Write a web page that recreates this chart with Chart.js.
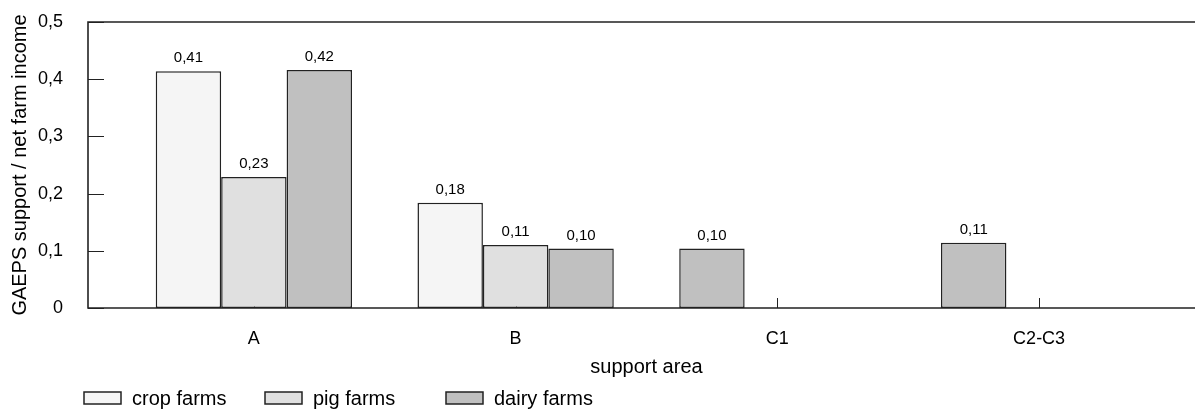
<!DOCTYPE html>
<html>
<head>
<meta charset="utf-8">
<script src="https://cdn.jsdelivr.net/npm/chart.js@4.4.1/dist/chart.umd.min.js"></script>
<style>
  body { margin: 0; background: #fff; }
  #wrap { width: 1195px; height: 410px; }
</style>
</head>
<body>
<div id="wrap"><canvas id="gaepsChart" width="1195" height="410"></canvas></div>
<script>
// data
const areas = ["A", "B", "C1", "C2-C3"];
const seriesNames = ["crop farms", "pig farms", "dairy farms"];
const cropFarms = [0.414, 0.184, null, null];
const pigFarms = [0.229, 0.110, null, null];
const dairyFarms = [0.416, 0.104, 0.104, 0.114];
const yTicks = [0, 0.1, 0.2, 0.3, 0.4, 0.5];

const colors = ["#f5f5f5", "#e0e0e0", "#c0c0c0"];
const edge = "#222";
const FONT = '"Liberation Sans", Arial, sans-serif';
Chart.defaults.font.family = FONT;
Chart.defaults.color = "#000";

// in the C areas the dairy bar sits in the first slot of the group
const dairyInGroup = dairyFarms.map((v, i) => cropFarms[i] == null ? null : v);
const dairyFirstSlot = dairyFarms.map((v, i) => cropFarms[i] == null ? v : null);

const fmt = v => v.toFixed(2).replace(".", ",");

function barSet(label, data, color, stack) {
    return {
        label: label,
        data: data,
        stack: stack,
        backgroundColor: color,
        borderColor: edge,
        borderWidth: 1.5,
        borderSkipped: false
    };
}

// frame, inward tick marks, value labels and legend
const decor = {
    id: "decor",
    beforeDatasetsDraw(chart) {
        const {ctx, chartArea, scales} = chart;
        ctx.save();
        ctx.strokeStyle = edge;
        ctx.lineWidth = 1;
        scales.x.ticks.forEach((t, i) => {
            const x = Math.round(scales.x.getPixelForTick(i)) + 0.5;
            ctx.beginPath();
            ctx.moveTo(x, chartArea.bottom);
            ctx.lineTo(x, chartArea.bottom - 10);
            ctx.stroke();
        });
        ctx.restore();
    },
    afterDatasetsDraw(chart) {
        const {ctx, chartArea, scales} = chart;
        const left = chartArea.left - 35;
        const right = chart.width;
        ctx.save();
        ctx.strokeStyle = edge;
        ctx.lineWidth = 1;
        scales.y.ticks.forEach(t => {
            const y = Math.round(scales.y.getPixelForValue(t.value)) + 0.5;
            ctx.beginPath();
            ctx.moveTo(left, y);
            ctx.lineTo(left + 16, y);
            ctx.stroke();
        });
        ctx.lineWidth = 1.6;
        ctx.beginPath();
        ctx.moveTo(right, chartArea.top);
        ctx.lineTo(left, chartArea.top);
        ctx.lineTo(left, chartArea.bottom);
        ctx.lineTo(right, chartArea.bottom);
        ctx.stroke();

        // value labels above the bars
        ctx.fillStyle = "#000";
        ctx.font = "15px " + FONT;
        ctx.textAlign = "center";
        ctx.textBaseline = "alphabetic";
        chart.data.datasets.forEach((ds, di) => {
            chart.getDatasetMeta(di).data.forEach((bar, i) => {
                if (ds.data[i] == null) return;
                ctx.fillText(fmt(ds.data[i]), bar.x, bar.y - 9);
            });
        });
        ctx.restore();
    },
    afterDraw(chart) {
        const {ctx} = chart;
        const x0 = chart.chartArea.left - 39;
        const y0 = chart.height - 18;
        ctx.save();
        ctx.font = "20px " + FONT;
        ctx.textBaseline = "middle";
        ctx.textAlign = "left";
        seriesNames.forEach((name, i) => {
            const x = x0 + i * 181;
            ctx.fillStyle = colors[i];
            ctx.fillRect(x, y0, 37, 12);
            ctx.strokeStyle = edge;
            ctx.lineWidth = 1.5;
            ctx.strokeRect(x, y0, 37, 12);
            ctx.fillStyle = "#000";
            ctx.fillText(name, x + 48, y0 + 7);
        });
        ctx.restore();
    }
};

const ctx = document.getElementById("gaepsChart").getContext("2d");
new Chart(ctx, {
    type: "bar",
    data: {
        labels: areas,
        datasets: [
            barSet(seriesNames[0], cropFarms, colors[0], "s1"),
            barSet(seriesNames[1], pigFarms, colors[1], "s2"),
            barSet(seriesNames[2], dairyInGroup, colors[2], "s3"),
            barSet(seriesNames[2], dairyFirstSlot, colors[2], "s1")
        ]
    },
    options: {
        responsive: false,
        animation: false,
        categoryPercentage: 0.75,
        barPercentage: 1.0,
        layout: { padding: { top: 22, right: 25, bottom: 24, left: 0 } },
        plugins: {
            legend: { display: false },
            tooltip: { enabled: false }
        },
        scales: {
            x: {
                stacked: true,
                grid: { display: false },
                border: { display: false },
                ticks: { font: { size: 18 }, padding: 12, maxRotation: 0, autoSkip: false },
                title: { display: true, text: "support area", font: { size: 20 }, padding: { top: 0, bottom: 7 } },
                afterFit: s => { s.height = 78; }
            },
            y: {
                stacked: true,
                min: 0,
                max: 0.5,
                grid: { display: false },
                border: { display: false },
                afterBuildTicks: s => { s.ticks = yTicks.map(v => ({ value: v })); },
                ticks: {
                    font: { size: 18 },
                    padding: 52,
                    callback: v => v === 0 ? "0" : v.toFixed(1).replace(".", ",")
                },
                title: { display: true, text: "GAEPS support / net farm income", font: { size: 20 }, padding: { top: 8, bottom: 0 } },
                afterFit: s => { s.width = 123; s.paddingTop = 0; s.paddingBottom = 0; }
            }
        }
    },
    plugins: [decor]
});
</script>
</body>
</html>
